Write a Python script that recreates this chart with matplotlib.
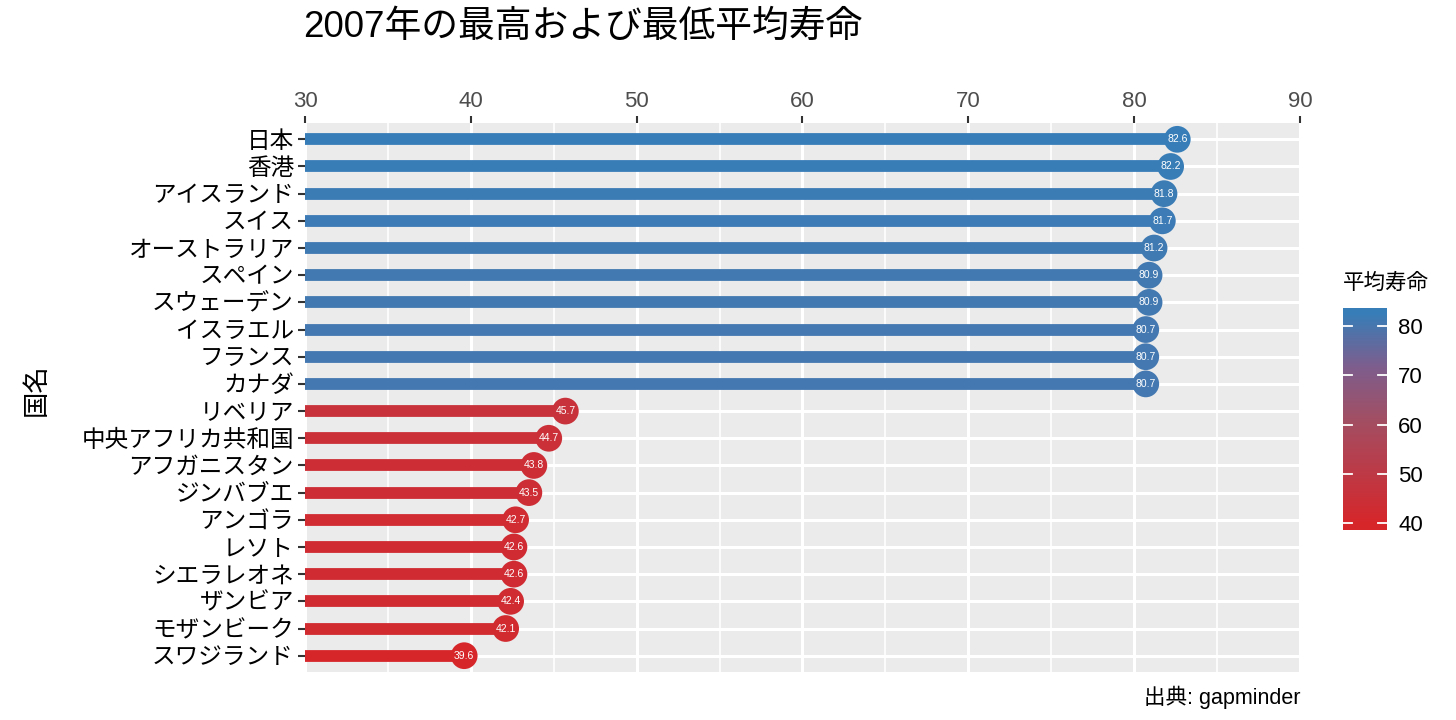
import numpy as np
import matplotlib
matplotlib.use("Agg")
import matplotlib.pyplot as plt
from matplotlib.colors import LinearSegmentedColormap, Normalize

plt.rcParams['font.family'] = ['Liberation Sans', 'Noto Sans CJK JP', 'DejaVu Sans']

#--------------------------------------------------------------------------
# data (top to bottom)
countries = ["日本", "香港", "アイスランド", "スイス", "オーストラリア", "スペイン",
             "スウェーデン", "イスラエル", "フランス", "カナダ",
             "リベリア", "中央アフリカ共和国", "アフガニスタン", "ジンバブエ", "アンゴラ",
             "レソト", "シエラレオネ", "ザンビア", "モザンビーク", "スワジランド"]
life_exp = [82.6, 82.2, 81.8, 81.7, 81.2, 80.9, 80.9, 80.7, 80.7, 80.7,
            45.7, 44.7, 43.8, 43.5, 42.7, 42.6, 42.6, 42.4, 42.1, 39.6]
x_ticks = [30, 40, 50, 60, 70, 80, 90]
cbar_ticks = [40, 50, 60, 70, 80]

#--------------------------------------------------------------------------
# colour scale (red -> purple -> blue)
cmap = LinearSegmentedColormap.from_list(
    "lifeexp", [(0.0, "#D7262A"), (0.5, "#A24F64"), (0.75, "#7D5E8E"), (1.0, "#377EB8")])
norm = Normalize(vmin=min(life_exp), vmax=max(life_exp))

fig = plt.figure(figsize=(14.56, 7.2), dpi=100)
ax = fig.add_axes([305/1456, 1-672/720, 995/1456, 549/720])
ax.set_facecolor("#EBEBEB")
for s in ax.spines.values():
    s.set_visible(False)

ypos = np.arange(len(countries))
cols = cmap(norm(np.array(life_exp)))

# grid
for v in range(35, 90, 10):
    ax.axvline(v, color="white", lw=1.2, zorder=0)
for v in x_ticks:
    ax.axvline(v, color="white", lw=2.2, zorder=0)
for y in ypos:
    ax.axhline(y, color="white", lw=2.2, zorder=0)

# lollipops
ax.hlines(ypos, 30, life_exp, colors=cols, lw=8.5, zorder=2)
ax.scatter(life_exp, ypos, s=370, c=cols, zorder=3, linewidths=0)
for x, y in zip(life_exp, ypos):
    ax.text(x, y, "%.1f" % x, color="white", fontsize=7.5, ha="center", va="center", zorder=4)

ax.set_xlim(30, 90)
ax.set_ylim(len(countries) - 0.4, -0.6)
ax.xaxis.tick_top()
ax.set_xticks(x_ticks)
ax.set_xticklabels([str(t) for t in x_ticks], fontsize=16, color="#4D4D4D")
ax.set_yticks(ypos)
ax.set_yticklabels(countries, fontsize=17, color="black")
ax.tick_params(axis="both", length=5, width=1.5, color="#333333", pad=3)

# title, axis title, caption
fig.text(303/1456, 1-27/720, "2007年の最高および最低平均寿命", fontsize=26.5, ha="left", va="center")
fig.text(36/1456, 1-390/720, "国名", fontsize=19, rotation=90, ha="center", va="center")
fig.text(1300/1456, 1-697/720, "出典: gapminder", fontsize=15.5, ha="right", va="center")

# colour bar
cax = fig.add_axes([1343/1456, 1-530/720, 44/1456, 222/720])
lo, hi = 38.6, 83.7
grad = np.linspace(lo, hi, 256).reshape(-1, 1)
cax.imshow(grad, aspect="auto", cmap=cmap, norm=norm, origin="lower", extent=[0, 1, lo, hi])
cax.set_xlim(0, 1)
cax.set_ylim(lo, hi)
cax.set_xticks([])
for s in cax.spines.values():
    s.set_visible(False)
for t in cbar_ticks:
    cax.plot([0, 0.2], [t, t], color="white", lw=1.3)
    cax.plot([0.8, 1], [t, t], color="white", lw=1.3)
cax.yaxis.tick_right()
cax.set_yticks(cbar_ticks)
cax.set_yticklabels([str(t) for t in cbar_ticks], fontsize=16)
cax.tick_params(axis="y", length=0, pad=8)
fig.text(1343/1456, 1-283/720, "平均寿命", fontsize=15.5, ha="left", va="center")

fig.savefig("out.png", dpi=100)
